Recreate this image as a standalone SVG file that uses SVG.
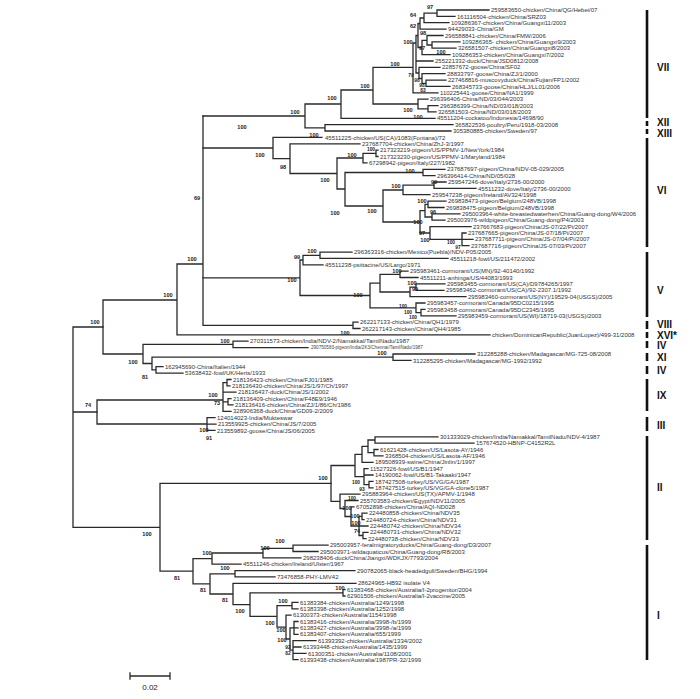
<svg xmlns="http://www.w3.org/2000/svg" width="700" height="699" viewBox="0 0 700 699">
<style>
.b{fill:none;stroke:#2a2a2a;stroke-width:1.3;stroke-linecap:square}
.t{font-family:"Liberation Sans",Arial,sans-serif;font-size:6px;fill:#333}
.s{font-family:"Liberation Sans",Arial,sans-serif;font-size:4.6px;fill:#444}
.bs{font-family:"Liberation Sans",Arial,sans-serif;font-size:5.6px;font-weight:bold;fill:#222;text-anchor:middle}
.bx{font-family:"Liberation Sans",Arial,sans-serif;font-size:4.8px;font-weight:bold;fill:#222;text-anchor:middle}
.cb{stroke:#111;stroke-width:2.6}
.cl{font-family:"Liberation Sans",Arial,sans-serif;font-size:10px;font-weight:bold;fill:#111}
</style>
<rect width="700" height="699" fill="#fff"/>
<g id="connectors">
<path class="b" d="M437 10V16.4M437 10H489M437 16.4H455M424 13.2V22.7M424 13.2H437M424 22.7H449M420 18V29.1M420 18H424M420 29.1H446M432 41.9V48.2M432 41.9H460M432 48.2H456M427 35.5V45M427 35.5H443M427 45H432M422 40.3V54.6M422 40.3H427M422 54.6H450M418 23.5V47.5M418 23.5H420M418 47.5H422M426 80.1V86.4M426 80.1H446M426 86.4H450M422 73.7V83.3M422 73.7H445M422 83.3H426M419 67.3V78.5M419 67.3H440M419 78.5H422M416 35.5V73M416 35.5H418M416 61H433M416 73H419M413 43V92.8M413 43H416M413 92.8H438M428 105.6V111.9M428 105.6H438M428 111.9H436M418 99.2V108.8M418 99.2H428M418 108.8H428M373 67.3V104M373 67.3H413M373 104H418M341 90V118.3M341 90H373M341 118.3H435M325 124.7V131M325 124.7H453M325 131H451M305 104V127.9M305 104H341M305 127.9H325M203 116H305"/>
<path class="b" d="M376 150.1V156.5M376 150.1H378M376 156.5H378M363 153.3V162.9M363 153.3H376M363 162.9H367M423 169.3V175.6M423 169.3H445M423 175.6H435M434 182V188.4M434 182H446M434 188.4H476M403 185.2V194.7M403 185.2H434M403 194.7H430M428 201.1V207.5M428 201.1H446M428 207.5H444M432 213.8V220.2M432 213.8H460M432 220.2H445M425 204.3V217M425 204.3H428M425 217H432M462 233V245.7M462 233H466M462 239.3H473M462 245.7H469M430 226.6V239.3M430 226.6H471M430 239.3H462M420 210.7V233M420 210.7H425M420 233H430M383 190V222M383 190H403M383 222H420M345 172.5V206M345 172.5H423M345 206H383M337 158V189M337 158H363M337 189H345M290 143.8V173.5M290 143.8H360M290 173.5H337M273 137.4V158.7M273 137.4H322M273 158.7H290M203 148H273"/>
<path class="b" d="M320 252.1V258.4M320 252.1H352M320 258.4H448M303 255.3V264.8M303 255.3H320M303 264.8H323M400 271.2V277.5M400 271.2H408M400 277.5H418M416 283.9V290.3M416 283.9H445M416 290.3H444M410 287.1V296.7M410 287.1H416M410 296.7H466M380 274.4V292M380 274.4H400M380 292H410M421 309.4V315.8M421 309.4H425M421 315.8H456M416 303V312.6M416 303H425M416 312.6H421M370 283.2V307.8M370 283.2H380M370 307.8H416M300 260V295.5M300 260H303M300 295.5H370M203 277.8H300"/>
<path class="b" d="M353 322.1V328.5M353 322.1H358M353 328.5H360M203 325.3H353M203 116V325.3M177 264V334.9M177 264H203M177 334.9H490M233 341.2V347.6M233 341.2H248M233 347.6H308M393 354V360.4M393 354H475M393 360.4H411M156 366.7V373.1M156 366.7H163M156 373.1H183M152 357.2V369.9M152 357.2H393M152 369.9H156M143 344.4V363.5M143 344.4H233M143 363.5H152M103 300V354M103 300H177M103 354H143"/>
<path class="b" d="M227 379.5V385.8M227 379.5H231M227 385.8H230M228 398.6V404.9M228 398.6H231M228 404.9H233M223 382.7V411.3M223 382.7H227M223 392.2H236M223 401.8H228M223 411.3H231M207 417.7V430.4M207 417.7H215M207 424.1H216M207 430.4H215M97 400V424M97 400H223M97 424H207"/>
<path class="b" d="M375 436.8V443.2M375 436.8H438M375 443.2H474M374 449.5V455.9M374 449.5H378M374 455.9H383M368 440V452.7M368 440H375M368 452.7H374M362 446.4V462.3M362 446.4H368M362 462.3H373M369 481.4V487.8M369 481.4H373M369 487.8H373M364 468.6V484.6M364 468.6H368M364 475H373M364 484.6H369M355 454.4V476.6M355 454.4H362M355 476.6H364M362 513.2V519.6M362 513.2H367M362 519.6H364M363 532.3V538.7M363 532.3H368M363 538.7H366M359 516.4V535.5M359 516.4H362M359 526H368M359 535.5H363M351 506.9V526M351 506.9H354M351 526H359M345 500.5V516.5M345 500.5H358M345 516.5H351M340 494.1V508.5M340 494.1H360M340 508.5H345M331 465.5V501.3M331 465.5H355M331 501.3H340"/>
<path class="b" d="M293 545.1V551.5M293 545.1H328M293 551.5H318M263 548.3V557.8M263 548.3H293M263 557.8H301M212 553V564.2M212 553H263M212 564.2H241M235 570.6V576.9M235 570.6H355M235 576.9H275M343 589.7V596M343 589.7H345M343 596H345M292 602.4V608.8M292 602.4H298M292 608.8H298M294 621.5V634.3M294 621.5H298M294 627.9H298M294 634.3H298M293 640.6V659.7M293 640.6H316M293 647H301M293 653.4H306M293 659.7H298M290 627.9V650.2M290 627.9H294M290 650.2H293M286 615.2V639M286 615.2H291M286 639H290M277 605.6V627.1M277 605.6H292M277 627.1H286M250 592.9V616.4M250 592.9H343M250 616.4H277M233 583.3V604.6M233 583.3H356M233 604.6H250M210 573.8V594M210 573.8H235M210 594H233M193 558.6V583.9M193 558.6H212M193 583.9H210M160 483.4V571.2M160 483.4H331M160 571.2H193M73 327V527.3M73 327H103M73 412H97M73 527.3H160"/>
</g>
<g id="bootstrap">
<text class="bs" x="430" y="9">97</text><text class="bs" x="413" y="17">64</text><text class="bs" x="413" y="28">62</text><text class="bs" x="423" y="35">98</text><text class="bs" x="408" y="44">100</text><text class="bs" x="422" y="50">97</text><text class="bs" x="441" y="54">100</text><text class="bx" x="411" y="76.5">79</text><text class="bx" x="417" y="81.5">98</text><text class="bx" x="422" y="86.5">98</text><text class="bx" x="423" y="91.5">83</text><text class="bs" x="395" y="66">100</text><text class="bs" x="365" y="88">100</text><text class="bs" x="332" y="100">100</text><text class="bs" x="295" y="114">100</text><text class="bs" x="408" y="112">100</text><text class="bs" x="418" y="119">100</text><text class="bs" x="242" y="129">100</text><text class="bs" x="260" y="157">100</text><text class="bs" x="314" y="137">100</text><text class="bs" x="283" y="169">98</text><text class="bs" x="352" y="157">100</text><text class="bx" x="371" y="151.2">100</text><text class="bs" x="325" y="182">100</text><text class="bs" x="410" y="173">100</text><text class="bs" x="396" y="188">100</text><text class="bs" x="434" y="184">99</text><text class="bs" x="335" y="215">100</text><text class="bs" x="372" y="213">100</text><text class="bs" x="422" y="203">100</text><text class="bs" x="433" y="214">96</text><text class="bs" x="418" y="224">100</text><text class="bs" x="422" y="235">97</text><text class="bs" x="425" y="242">100</text><text class="bx" x="451" y="244">100</text><text class="bx" x="458" y="249.2">97</text><text class="bs" x="197" y="200">69</text><text class="bs" x="192" y="261">100</text><text class="bs" x="312" y="253">100</text><text class="bs" x="297" y="259">99</text><text class="bs" x="292" y="282">100</text><text class="bs" x="397" y="273">100</text><text class="bs" x="412" y="285">100</text><text class="bs" x="415" y="291">99</text><text class="bs" x="358" y="297">100</text><text class="bx" x="403" y="308">100</text><text class="bx" x="408" y="313.5">100</text><text class="bx" x="413" y="319">100</text><text class="bs" x="345" y="335">100</text><text class="bs" x="168" y="297">100</text><text class="bs" x="95" y="324">100</text><text class="bs" x="225" y="343">100</text><text class="bs" x="382" y="355">100</text><text class="bs" x="133" y="364">100</text><text class="bs" x="145" y="379">81</text><text class="bs" x="213" y="397">100</text><text class="bs" x="217" y="405">73</text><text class="bs" x="88" y="407">74</text><text class="bs" x="204" y="432">100</text><text class="bs" x="209" y="439.5">91</text><text class="bs" x="323" y="480">100</text><text class="bx" x="356" y="484">100</text><text class="bx" x="362" y="490.5">93</text><text class="bx" x="352" y="499.5">100</text><text class="bs" x="347" y="510">100</text><text class="bs" x="355" y="517.5">100</text><text class="bs" x="356" y="525">100</text><text class="bs" x="357" y="533">74</text><text class="bs" x="147" y="536">100</text><text class="bs" x="280" y="543">100</text><text class="bs" x="265" y="550">100</text><text class="bs" x="207" y="555">100</text><text class="bs" x="225" y="570">100</text><text class="bs" x="177" y="580">81</text><text class="bs" x="340" y="590">100</text><text class="bs" x="203" y="592">81</text><text class="bs" x="225" y="602">81</text><text class="bs" x="283" y="603">100</text><text class="bs" x="240" y="613">100</text><text class="bs" x="270" y="625">100</text><text class="bs" x="281" y="632">100</text><text class="bs" x="282" y="642">100</text><text class="bx" x="288" y="648.5">92</text><text class="bx" x="288" y="655">82</text>
</g>
<g id="clade-VII">
<text class="t" x="491" y="12.1">259583650-chicken/China/QG/Hebei/07</text>
<text class="t" x="457" y="18.5">161116504-chicken/China/SRZ03</text>
<text class="t" x="451" y="24.8">109286367-chicken/China/Guangxi11/2003</text>
<text class="t" x="448" y="31.2">94429033-China/GM</text>
<text class="t" x="445" y="37.6">296588841-chicken/China/FMW/2006</text>
<text class="t" x="462" y="44">109286365- chicken/China/Guangxi9/2003</text>
<text class="t" x="458" y="50.3">326581507-chicken/China/Guangxi8/2003</text>
<text class="t" x="452" y="56.7">109286353-chicken/China/Guangxi7/2002</text>
<text class="t" x="435" y="63.1">255221332-duck/China/JSD0812/2008</text>
<text class="t" x="442" y="69.4">22857672-goose/China/SF02</text>
<text class="t" x="447" y="75.8">28833797-goose/China/ZJ/1/2000</text>
<text class="t" x="448" y="82.2">227468816-muscovyduck/China/Fujian/FP1/2002</text>
<text class="t" x="452" y="88.5">268345733-goose/China/HLJ/LL01/2006</text>
<text class="t" x="440" y="94.9">110225441-goose/China/NA1/1999</text>
<text class="t" x="430" y="101.3">296396406-China/ND/03/044/2003</text>
<text class="t" x="440" y="107.7">296386399-China/ND/03/018/2003</text>
<text class="t" x="438" y="114">326581503-China/ND/03/018/2003</text>
<text class="t" x="437" y="120.4">45511204-cockatoo/Indonesia/14698/90</text>
</g>
<g id="clade-XII"><text class="t" x="455" y="126.8">365822536-poultry/Peru/1918-03/2008</text></g>
<g id="clade-XIII"><text class="t" x="453" y="133.1">305380885-chicken/Sweden/97</text></g>
<g id="clade-VI">
<text class="t" x="325" y="139.5">45511225-chicken/US(CA)/1083(Fontana)/72</text>
<text class="t" x="362" y="145.9">237687704-chicken/China/ZhJ-3/1997</text>
<text class="t" x="380" y="152.2">217323219-pigeon/US/PPMV-1/NewYork/1984</text>
<text class="t" x="380" y="158.6">217323230-pigeon/US/PPMV-1/Maryland/1984</text>
<text class="t" x="369" y="165">67298942-pigeon/Italy/227/1982</text>
<text class="t" x="447" y="171.4">237687697-pigeon/China/NDV-05-029/2005</text>
<text class="t" x="437" y="177.7">296396414-China/ND/05/028</text>
<text class="t" x="448" y="184.1">259547246-dove/Italy/2736-00/2000</text>
<text class="t" x="478" y="190.5">45511232-dove/Italy/2736-00/2000</text>
<text class="t" x="432" y="196.8">259547238-pigeon/Ireland/AV324/1998</text>
<text class="t" x="448" y="203.2">269838473-pigeon/Belgium/248VB/1998</text>
<text class="t" x="446" y="209.6">269838475-pigeon/Belgium/248VB/1998</text>
<text class="t" x="462" y="215.9">295003964-white-breastedwaterhen/China/Guang-dong/W4/2006</text>
<text class="t" x="447" y="222.3">295003976-wildpigeon/China/Guang-dong/P4/2003</text>
<text class="t" x="473" y="228.7">237667683-pigeon/China/JS-07/22/Pi/2007</text>
<text class="t" x="468" y="235.1">237687665-pigeon/China/JS-07/18/Pi/2007</text>
<text class="t" x="475" y="241.4">237687711-pigeon/China/JS-07/04/Pi/2007</text>
<text class="t" x="471" y="247.8">237687716-pigeon/China/JS-07/03/Pi/2007</text>
</g>
<g id="clade-V">
<text class="t" x="354" y="254.2">296363316-chicken/Mexico(Puebla)/NDV-P05/2005</text>
<text class="t" x="450" y="260.5">45511218-fowl/US/211472/2002</text>
<text class="t" x="325" y="266.9">45511238-psittacine/US/Largo/1971</text>
<text class="t" x="410" y="273.3">295983461-cormorant/US(MN)/92-40140/1992</text>
<text class="t" x="420" y="279.6">45511211-anhinga/US/44083/1993</text>
<text class="t" x="447" y="286">295983455-cormorant/US(CA)/D9784265/1997</text>
<text class="t" x="446" y="292.4">295983462-cormorant/US(CA)/92-2307.1/1992</text>
<text class="t" x="468" y="298.8">295983460-cormorant/US(NY)/19529-04(USGS)/2005</text>
<text class="t" x="427" y="305.1">295983457-cormorant/Canada/95DC0215/1995</text>
<text class="t" x="427" y="311.5">295983458-cormorant/Canada/95DC2345/1995</text>
<text class="t" x="458" y="317.9">295983459-cormorant/US(WI)/18719-03(USGS)/2003</text>
</g>
<g id="clade-VIII">
<text class="t" x="360" y="324.2">262217133-chicken/China/QH1/1979</text>
<text class="t" x="362" y="330.6">262217143-chicken/China/QH4/1985</text>
</g>
<g id="clade-XVI"><text class="t" x="492" y="337">chicken/DominicanRepublic(JuanLopez)/499-31/2008</text></g>
<g id="clade-IV-a">
<text class="t" x="250" y="343.3">270311573-chicken/India/NDV-2/Namakkal/TamilNadu/1987</text>
<text class="s" x="311" y="349.3">290750583-pigeon/India/2K3/Chennai/TamilNadu/1987</text>
</g>
<g id="clade-XI">
<text class="t" x="477" y="356.1">312285288-chicken/Madagascar/MG-725-08/2008</text>
<text class="t" x="413" y="362.5">312285295-chicken/Madagascar/MG-1992/1992</text>
</g>
<g id="clade-IV-b">
<text class="t" x="165" y="368.8">162945690-China/Italien/1944</text>
<text class="t" x="185" y="375.2">53638432-fowl/UK/Herts/1933</text>
</g>
<g id="clade-IX">
<text class="t" x="233" y="381.6">218136423-chicken/China/FJ01/1985</text>
<text class="t" x="232" y="387.9">218136430-chicken/China/JS/1/97/Ch/1997</text>
<text class="t" x="238" y="394.3">218136437-duck/China/JS/1/2002</text>
<text class="t" x="233" y="400.7">218136409-chicken/China/F48E9/1946</text>
<text class="t" x="235" y="407">218136416-chicken/China/ZJ/1/86/Ch/1986</text>
<text class="t" x="233" y="413.4">328906368-duck/China/GD09-2/2009</text>
</g>
<g id="clade-III">
<text class="t" x="217" y="419.8">124014023-India/Mukteswar</text>
<text class="t" x="218" y="426.2">213559925-chicken/China/JS/7/2005</text>
<text class="t" x="217" y="432.5">213559892-goose/China/JS/06/2005</text>
</g>
<g id="clade-II">
<text class="t" x="440" y="438.9">301333029-chicken/India/Namakkal/TamilNadu/NDV-4/1987</text>
<text class="t" x="476" y="445.3">157674520-HBNP-C4152R2L</text>
<text class="t" x="380" y="451.6">61621428-chicken/US/Lasota-AY/1946</text>
<text class="t" x="385" y="458">3368504-chicken/US/Lasota-AF/1946</text>
<text class="t" x="375" y="464.4">189508939-swine/China/Jinlin/1/1997</text>
<text class="t" x="370" y="470.7">11527326-fowl/US/B1/1947</text>
<text class="t" x="375" y="477.1">14190062-fowl/US/B1-Takaaki/1947</text>
<text class="t" x="375" y="483.5">187427508-turkey/US/VG/GA/1987</text>
<text class="t" x="375" y="489.9">187427515-turkey/US/VG/GA-clone5/1987</text>
<text class="t" x="362" y="496.2">295883964-chicken/US(TX)/APMV-1/1948</text>
<text class="t" x="360" y="502.6">255703583-chicken/Egypt/NDV11/2005</text>
<text class="t" x="356" y="509">67052898-chicken/China/AQI-ND028</text>
<text class="t" x="369" y="515.3">224480858-chicken/China/NDV35</text>
<text class="t" x="366" y="521.7">224480724-chicken/China/NDV31</text>
<text class="t" x="370" y="528.1">224480742-chicken/China/NDV34</text>
<text class="t" x="370" y="534.4">224480731-chicken/China/NDV32</text>
<text class="t" x="368" y="540.8">224480738-chicken/China/NDV33</text>
</g>
<g id="clade-I">
<text class="t" x="330" y="547.2">295003957-feralmigratoryducks/China/Guang-dong/D3/2007</text>
<text class="t" x="320" y="553.6">295003971-wildaquaticus/China/Guang-dong/R8/2003</text>
<text class="t" x="303" y="559.9">298238406-duck/China/Jiangxi/WDKJX/7793/2004</text>
<text class="t" x="243" y="566.3">45511246-chicken/Ireland/Ulster/1967</text>
<text class="t" x="357" y="572.7">290782065-black-headedgull/Sweden/BHG/1994</text>
<text class="t" x="277" y="579">73476858-PHY-LMV42</text>
<text class="t" x="358" y="585.4">28624965-HB92 isolate V4</text>
<text class="t" x="347" y="591.8">61383468-chicken/Australia/I-2progenitor/2004</text>
<text class="t" x="347" y="598.1">62901506-chicken/Australia/I-2vaccine/2005</text>
<text class="t" x="300" y="604.5">61383384-chicken/Australia/1249/1998</text>
<text class="t" x="300" y="610.9">61383398-chicken/Australia/1252/1998</text>
<text class="t" x="293" y="617.3">61300373-chicken/Australia/1154/1998</text>
<text class="t" x="300" y="623.6">61383416-chicken/Australia/3998-/b/1999</text>
<text class="t" x="300" y="630">61383427-chicken/Australia/3998-/a/1999</text>
<text class="t" x="300" y="636.4">61383407-chicken/Australia/655/1999</text>
<text class="t" x="318" y="642.7">61393392-chicken/Australia/1334/2002</text>
<text class="t" x="303" y="649.1">61393448-chicken/Australia/1435/1999</text>
<text class="t" x="308" y="655.5">61300351-chicken/Australia/1108/2001</text>
<text class="t" x="300" y="661.8">61393438-chicken/Australia/1987PR-32/1999</text>
</g>
<g id="genotype-bars">
<line class="cb" x1="647" y1="10" x2="647" y2="118"/><text class="cl" x="657" y="71">VII</text>
<line class="cb" x1="647" y1="121" x2="647" y2="126"/><text class="cl" x="657" y="126">XII</text>
<line class="cb" x1="647" y1="129" x2="647" y2="134"/><text class="cl" x="657" y="137">XIII</text>
<line class="cb" x1="647" y1="138" x2="647" y2="247"/><text class="cl" x="657" y="194">VI</text>
<line class="cb" x1="647" y1="252" x2="647" y2="317"/><text class="cl" x="657" y="294">V</text>
<line class="cb" x1="647" y1="321" x2="647" y2="329"/><text class="cl" x="657" y="327.5">VIII</text>
<line class="cb" x1="647" y1="332" x2="647" y2="338"/><text class="cl" x="657" y="338.5">XVI*</text>
<line class="cb" x1="647" y1="341" x2="647" y2="348"/><text class="cl" x="657" y="348.5">IV</text>
<line class="cb" x1="647" y1="353" x2="647" y2="361"/><text class="cl" x="657" y="360.5">XI</text>
<line class="cb" x1="647" y1="366" x2="647" y2="374"/><text class="cl" x="657" y="373.5">IV</text>
<line class="cb" x1="647" y1="379" x2="647" y2="411"/><text class="cl" x="657" y="398.5">IX</text>
<line class="cb" x1="647" y1="417" x2="647" y2="431"/><text class="cl" x="657" y="428.5">III</text>
<line class="cb" x1="647" y1="436" x2="647" y2="540"/><text class="cl" x="657" y="491">II</text>
<line class="cb" x1="647" y1="545" x2="647" y2="660"/><text class="cl" x="657" y="619">I</text>
</g>
<g id="scale-bar">
<path class="b" d="M130 676H170M130 673V679M170 673V679"/>
<text x="150" y="690" font-family="Liberation Sans, Arial, sans-serif" font-size="8" text-anchor="middle" fill="#222">0.02</text>
</g>
</svg>
